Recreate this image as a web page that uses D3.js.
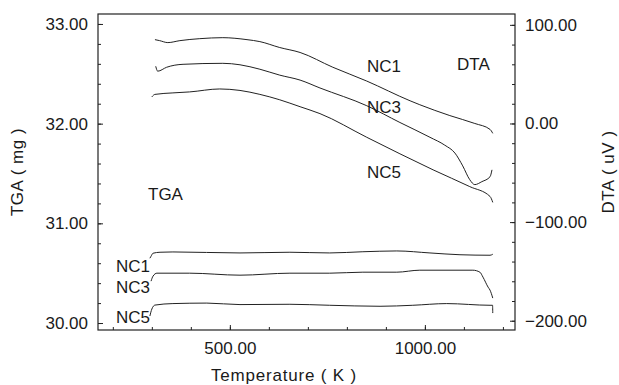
<!DOCTYPE html>
<html>
<head>
<meta charset="utf-8">
<script src="https://cdn.jsdelivr.net/npm/d3@7"></script>
<style>
  body { margin: 0; background: #fff; }
  svg text { font-family: "Liberation Sans", Arial, sans-serif; fill: #1a1a1a; }
</style>
</head>
<body>
<div id="chart"></div>
<script>
// values
const dtaNC1Temp = [308, 320, 341, 372, 423, 482, 544, 577, 628, 680, 764, 851, 962, 987, 1064, 1128, 1167, 1174];
const dtaNC1 = [85, 84, 82, 84, 86, 87, 85, 83, 77, 72, 57, 43, 23, 19, 8, 0, -6, -10];

const dtaNC3Temp = [310, 315, 338, 380, 482, 526, 577, 628, 680, 731, 851, 936, 1013, 1051, 1077, 1097, 1115, 1128, 1146, 1167, 1172];
const dtaNC3 = [58, 53, 57, 60, 61, 59.5, 55, 49, 44, 36, 18, 1, -14, -22, -30, -43, -57, -62, -59, -54, -47];

const dtaNC5Temp = [300, 308, 354, 397, 474, 526, 577, 628, 680, 731, 851, 1021, 1115, 1167, 1174];
const dtaNC5 = [27, 29.5, 31, 32, 35, 33.5, 29.5, 24, 17, 10, -14, -47, -64, -74, -80];

const tgaNC1Temp = [295, 298, 303, 321, 354, 526, 654, 756, 841, 928, 1013, 1090, 1167, 1174];
const tgaNC1 = [30.65, 30.67, 30.70, 30.71, 30.713, 30.703, 30.71, 30.703, 30.715, 30.723, 30.703, 30.685, 30.68, 30.69];

const tgaNC3Temp = [298, 303, 313, 397, 526, 654, 756, 841, 928, 987, 1123, 1141, 1149, 1162, 1167, 1174];
const tgaNC3 = [30.42, 30.47, 30.50, 30.50, 30.48, 30.50, 30.50, 30.51, 30.51, 30.53, 30.53, 30.51, 30.46, 30.36, 30.33, 30.25];

const tgaNC5Temp = [295, 300, 308, 354, 441, 526, 654, 756, 885, 969, 1056, 1167, 1173.5, 1174];
const tgaNC5 = [30.07, 30.14, 30.18, 30.195, 30.20, 30.185, 30.188, 30.178, 30.168, 30.178, 30.195, 30.178, 30.178, 30.10];

const xTicks = [500, 1000];
const xMinor = d3.range(200, 1201, 100);
const tgaTicks = [30, 31, 32, 33];
const tgaMinor = d3.range(30, 33.01, 0.2);
const dtaTicks = [-200, -100, 0, 100];
const dtaMinor = d3.range(-200, 101, 20);

const width = 619, height = 385;
const margin = { top: 14, right: 104, bottom: 55, left: 98 };

const svg = d3.select("#chart").append("svg")
  .attr("width", width)
  .attr("height", height);

const x = d3.scaleLinear().domain([162, 1231]).range([margin.left, width - margin.right]);
const yTga = d3.scaleLinear().domain([29.93, 33.10]).range([height - margin.bottom, margin.top]);
const yDta = d3.scaleLinear().domain([-209.4, 111]).range([height - margin.bottom, margin.top]);

const fmt = d3.format(".2f");
const bottomY = height - margin.bottom;
const rightX = width - margin.right;

// frame
svg.append("rect")
  .attr("x", margin.left)
  .attr("y", margin.top)
  .attr("width", rightX - margin.left)
  .attr("height", bottomY - margin.top)
  .attr("fill", "none")
  .attr("stroke", "#222")
  .attr("stroke-width", 1.2);

function styleAxis(g) {
  g.select(".domain").remove();
  g.selectAll("line").attr("stroke", "#222");
  g.selectAll("text").attr("font-size", 17).attr("fill", "#1a1a1a")
    .attr("font-family", "Liberation Sans, Arial, sans-serif");
}

// x axis
svg.append("g").attr("transform", `translate(0,${bottomY})`)
  .call(d3.axisBottom(x).tickValues(xMinor).tickSize(-3).tickFormat(""))
  .call(styleAxis);
svg.append("g").attr("transform", `translate(0,${bottomY})`)
  .call(d3.axisBottom(x).tickValues(xTicks).tickSize(-5).tickPadding(12).tickFormat(fmt))
  .call(styleAxis);

// left axis (TGA)
svg.append("g").attr("transform", `translate(${margin.left},0)`)
  .call(d3.axisLeft(yTga).tickValues(tgaMinor).tickSize(-3).tickFormat(""))
  .call(styleAxis);
svg.append("g").attr("transform", `translate(${margin.left},0)`)
  .call(d3.axisLeft(yTga).tickValues(tgaTicks).tickSize(-5).tickPadding(10).tickFormat(fmt))
  .call(styleAxis);

// right axis (DTA)
svg.append("g").attr("transform", `translate(${rightX},0)`)
  .call(d3.axisRight(yDta).tickValues(dtaMinor).tickSize(-3).tickFormat(""))
  .call(styleAxis);
svg.append("g").attr("transform", `translate(${rightX},0)`)
  .call(d3.axisRight(yDta).tickValues(dtaTicks).tickSize(-5).tickPadding(10).tickFormat(fmt))
  .call(styleAxis);

// curves
const series = [
  { t: dtaNC1Temp, v: dtaNC1, y: yDta },
  { t: dtaNC3Temp, v: dtaNC3, y: yDta },
  { t: dtaNC5Temp, v: dtaNC5, y: yDta },
  { t: tgaNC1Temp, v: tgaNC1, y: yTga },
  { t: tgaNC3Temp, v: tgaNC3, y: yTga },
  { t: tgaNC5Temp, v: tgaNC5, y: yTga }
];

series.forEach(s => {
  const line = d3.line()
    .x((d, i) => x(s.t[i]))
    .y(d => s.y(d))
    .curve(d3.curveMonotoneX);
  svg.append("path")
    .datum(s.v)
    .attr("d", line)
    .attr("fill", "none")
    .attr("stroke", "#222")
    .attr("stroke-width", 1);
});

// annotations
const notes = [
  { text: "NC1", x: 367, y: 72, anchor: "start" },
  { text: "DTA", x: 457, y: 70, anchor: "start" },
  { text: "NC3", x: 367, y: 113, anchor: "start" },
  { text: "NC5", x: 367, y: 178, anchor: "start" },
  { text: "TGA", x: 148, y: 200, anchor: "start" },
  { text: "NC1", x: 150, y: 272, anchor: "end" },
  { text: "NC3", x: 150, y: 293, anchor: "end" },
  { text: "NC5", x: 150, y: 323, anchor: "end" }
];
svg.selectAll(".note")
  .data(notes)
  .join("text")
  .attr("class", "note")
  .attr("x", d => d.x)
  .attr("y", d => d.y)
  .attr("text-anchor", d => d.anchor)
  .attr("font-size", 17)
  .text(d => d.text);

// axis titles
svg.append("text")
  .attr("x", 284)
  .attr("y", 381)
  .attr("text-anchor", "middle")
  .attr("font-size", 17)
  .attr("letter-spacing", 0.8)
  .text("Temperature ( K )");

svg.append("text")
  .attr("transform", "translate(23,172) rotate(-90)")
  .attr("text-anchor", "middle")
  .attr("font-size", 17)
  .attr("letter-spacing", 0.5)
  .text("TGA ( mg )");

svg.append("text")
  .attr("transform", "translate(614,172) rotate(-90)")
  .attr("text-anchor", "middle")
  .attr("font-size", 17)
  .attr("letter-spacing", 0.5)
  .text("DTA ( uV )");
</script>
</body>
</html>
